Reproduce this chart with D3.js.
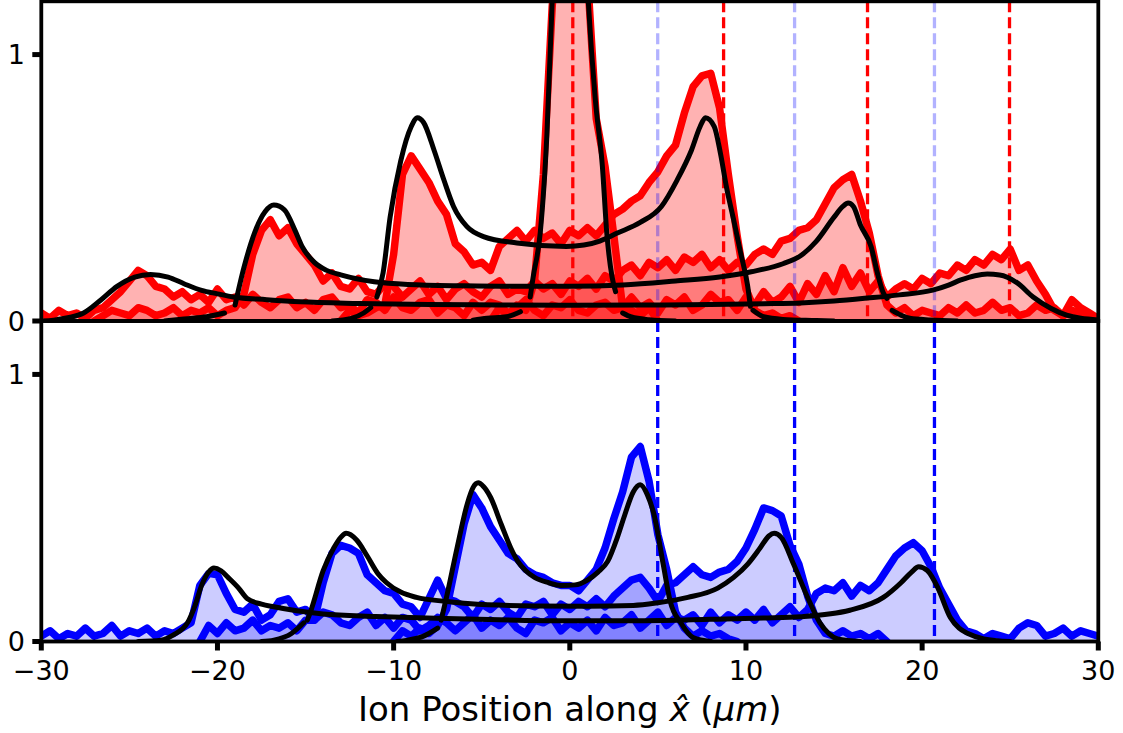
<!DOCTYPE html>
<html>
<head>
<meta charset="utf-8">
<script src="https://cdn.jsdelivr.net/npm/d3@7"></script>
<style>
  body { margin: 0; background: #fff; }
  svg { display: block; font-family: "DejaVu Sans", sans-serif; }
</style>
</head>
<body>
<script>
// measured profiles, sampled every 0.5 um from their start position
const STEP = 0.5;

// top panel (red) - one trace per ion pair
const redOuterStart = -30;
const redOuter = [
  0.03,0.01,0.04,0.02,0.03,0.01,0.04,0.05,0.08,0.11,
  0.15,0.19,0.17,0.13,0.12,0.09,0.11,0.08,0.10,0.07,
  0.12,0.08,0.09,0.06,0.10,0.07,0.05,0.08,0.09,0.05,
  0.07,0.04,0.08,0.09,0.05,0.06,0.03,0.08,0.07,0.04,
  0.09,0.05,0.04,0.07,0.08,0.03,0.06,0.05,0.02,0.07,
  0.04,0.07,0.06,0.03,0.05,0.08,0.04,0.02,0.06,0.05,
  0.08,0.04,0.03,0.06,0.07,0.04,0.05,0.09,0.05,0.07,
  0.03,0.08,0.06,0.09,0.04,0.06,0.10,0.07,0.08,0.04,
  0.09,0.06,0.11,0.07,0.09,0.13,0.07,0.14,0.10,0.17,
  0.11,0.20,0.13,0.18,0.11,0.15,0.09,0.12,0.14,0.12,
  0.16,0.14,0.18,0.17,0.21,0.19,0.23,0.21,0.25,0.23,
  0.27,0.19,0.21,0.15,0.10,0.04,0.02,0.08,0.05,0.03,
  0.01
];
const redThirdStart = -27;
const redThird = [
  0.00,0.02,0.04,0.03,0.02,0.05,0.04,0.02,0.03,0.05,
  0.02,0.04,0.03,0.05,0.02,0.04,0.05,0.10,0.25,0.34,
  0.38,0.32,0.35,0.29,0.25,0.21,0.15,0.18,0.13,0.12,
  0.16,0.11,0.10,0.14,0.13,0.09,0.12,0.15,0.10,0.13,
  0.08,0.12,0.14,0.11,0.09,0.13,0.15,0.10,0.12,0.11,
  0.15,0.12,0.14,0.10,0.15,0.13,0.16,0.12,0.17,0.15,
  0.19,0.21,0.17,0.22,0.20,0.23,0.19,0.24,0.22,0.25,
  0.20,0.23,0.19,0.22,0.21,0.25,0.27,0.25,0.30,0.31,
  0.34,0.35,0.38,0.44,0.50,0.53,0.55,0.45,0.33,0.17,
  0.06,0.03,0.05,0.02,0.04,0.03,0.02,0.05,0.03,0.06,
  0.03,0.04,0.07,0.04,0.05,0.02,0.03,0.06,0.04,0.05,
  0.02,0.04,0.03,0.02,0.00
];
const redSecondStart = -13;
const redSecond = [
  0.00,0.04,0.02,0.03,0.05,0.06,0.25,0.55,0.62,0.57,
  0.52,0.45,0.40,0.29,0.26,0.21,0.22,0.19,0.28,0.31,
  0.34,0.30,0.34,0.31,0.33,0.29,0.34,0.32,0.35,0.32,
  0.36,0.40,0.42,0.45,0.47,0.52,0.56,0.62,0.66,0.78,
  0.88,0.92,0.93,0.80,0.55,0.32,0.12,0.04,0.02,0.03,
  0.01,0.02,0.00
];
const redCentreStart = -4.5;
const redCentre = [
  0.00,0.05,0.02,0.06,0.04,0.15,0.55,1.18,1.60,1.80,
  1.70,1.30,0.76,0.58,0.32,0.05,0.04,0.02,0.05,0.00
];

// bottom panel (blue)
const blueOuterStart = -30;
const blueOuter = [
  0.02,0.04,0.01,0.03,0.02,0.05,0.02,0.03,0.06,0.02,
  0.04,0.03,0.05,0.02,0.04,0.03,0.05,0.07,0.21,0.255,
  0.25,0.18,0.12,0.11,0.14,0.08,0.10,0.15,0.16,0.11,
  0.12,0.08,0.11,0.10,0.07,0.06,0.09,0.11,0.06,0.09,
  0.05,0.09,0.08,0.04,0.06,0.09,0.07,0.04,0.07,0.10,
  0.05,0.08,0.06,0.09,0.05,0.03,0.08,0.07,0.09,0.04,
  0.07,0.05,0.08,0.04,0.09,0.06,0.07,0.10,0.05,0.08,
  0.11,0.06,0.09,0.08,0.10,0.06,0.11,0.07,0.10,0.08,
  0.11,0.08,0.12,0.07,0.10,0.13,0.09,0.12,0.18,0.20,
  0.19,0.22,0.17,0.21,0.19,0.22,0.27,0.32,0.35,0.37,
  0.34,0.28,0.20,0.14,0.08,0.04,0.03,0.01,0.03,0.02,
  0.01,0.05,0.07,0.06,0.02,0.03,0.05,0.02,0.04,0.03,
  0.02
];
const blueSecondStart = -21;
const blueSecond = [
  0.00,0.06,0.03,0.07,0.04,0.05,0.08,0.04,0.06,0.05,
  0.07,0.04,0.08,0.08,0.22,0.33,0.36,0.35,0.33,0.25,
  0.22,0.19,0.18,0.14,0.13,0.09,0.16,0.23,0.16,0.15,
  0.13,0.09,0.14,0.12,0.15,0.11,0.09,0.14,0.13,0.15,
  0.10,0.14,0.12,0.15,0.13,0.16,0.13,0.17,0.20,0.23,
  0.24,0.20,0.15,0.21,0.22,0.25,0.28,0.25,0.24,0.26,
  0.27,0.30,0.35,0.42,0.50,0.49,0.47,0.36,0.29,0.17,
  0.08,0.03,0.02,0.04,0.02,0.03,0.01,0.03,0.00
];
const blueInnerStart = -10;
const blueInner = [
  0.00,0.04,0.02,0.05,0.03,0.06,0.12,0.28,0.44,0.55,
  0.50,0.43,0.38,0.33,0.31,0.27,0.25,0.24,0.22,0.21,
  0.21,0.19,0.23,0.27,0.35,0.46,0.56,0.69,0.73,0.60,
  0.40,0.27,0.11,0.05,0.02,0.04,0.02,0.03,0.01,0.00
];

// model curves, read as [x, y] points; separate pieces where the curve breaks
const fitTop = [
  // outer pair
  [[-30,0],[-29.3,0.003],[-28.5,0.012],[-27.6,0.03],[-26.6,0.08],[-25.7,0.13],[-24.7,0.165],
   [-23.8,0.175],[-22.8,0.165],[-21.9,0.14],[-20.9,0.115],[-20,0.102],[-19.1,0.09],[-17.2,0.08],
   [-15.3,0.072],[-12,0.066],[-8,0.062],[-4,0.06],[0,0.059],[4,0.06],[8,0.062],[11,0.065],
   [13.1,0.068],[15,0.075],[16.9,0.086],[18.7,0.098],[20.6,0.116],[21.5,0.135],[22.2,0.154],
   [23,0.17],[23.7,0.176],[24.4,0.173],[25.4,0.143],[26.3,0.09],[27.3,0.048],[28.2,0.022],
   [29,0.01],[30,0.004]],
  // third pair
  [[-23,0],[-21.9,0.008],[-20.6,0.016],[-19.6,0.03]],
  [[-19.0,0.06],[-18.5,0.2],[-17.9,0.33],[-17.3,0.41],[-16.8,0.435],[-16.2,0.417],[-15.6,0.34],
   [-15.2,0.28],[-14.5,0.22],[-13.8,0.19],[-13,0.173],[-11.1,0.147],[-9.2,0.137],[-6,0.132],
   [-3,0.13],[0,0.13],[3,0.135],[6,0.15],[8.5,0.165],[10.3,0.185],[12.1,0.215],[13.1,0.245],
   [14.0,0.3],[15.0,0.39],[15.5,0.43],[15.8,0.443],[16.1,0.43],[16.5,0.36],[17.1,0.28],
   [17.5,0.17],[17.8,0.105],[18.0,0.085]],
  [[18.3,0.04],[18.8,0.022],[19.3,0.01],[20.5,0.004],[22,0]],
  // second pair
  [[-13.5,0],[-12.4,0.01],[-11.7,0.03],[-11.3,0.05]],
  [[-10.95,0.09],[-10.6,0.18],[-10.2,0.39],[-9.6,0.6],[-9.0,0.73],[-8.65,0.763],[-8.3,0.745],
   [-7.7,0.64],[-7.15,0.53],[-6.6,0.43],[-5.85,0.355],[-4.9,0.317],[-3.0,0.293],[-0.2,0.28],
   [0.8,0.285],[1.7,0.3],[2.7,0.33],[4.0,0.37],[5.2,0.43],[6.1,0.53],[6.9,0.64],[7.4,0.73],
   [7.7,0.763],[8.2,0.73],[8.55,0.63],[8.9,0.5],[9.3,0.38],[9.7,0.255],[10.1,0.13],[10.25,0.055]],
  [[10.4,0.04],[11.0,0.016],[12.1,0.006],[14,0.002],[15,0]],
  // centre ion
  [[-5.5,0.003],[-4.7,0.01],[-3.6,0.016],[-2.8,0.035]],
  [[-2.25,0.09],[-2.08,0.165],[-1.68,0.33],[-1.3,0.7],[-1.0,1.2],[-0.6,1.75],[-0.2,2.0],
   [0.1,2.05],[0.4,1.95],[0.75,1.6],[1.05,1.2],[1.45,0.83],[1.85,0.58],[2.1,0.33],[2.4,0.165],
   [2.6,0.11]],
  [[3.0,0.03],[3.5,0.015],[4.5,0.005],[6,0]]
];
const fitBottom = [
  [[-24.5,0],[-23.2,0.005],[-22.5,0.025],[-21.7,0.07],[-21.3,0.13],[-20.9,0.21],[-20.5,0.26],
   [-20.2,0.275],[-19.8,0.265],[-19.4,0.24],[-18.8,0.2],[-18.3,0.16],[-17.5,0.14],[-16.8,0.13],
   [-15.5,0.115],[-14,0.103],[-11,0.094],[-7,0.086],[-3,0.08],[0,0.078],[4,0.078],[8,0.083],
   [11,0.088],[13.1,0.093],[15.9,0.117],[17.8,0.165],[18.8,0.22],[19.4,0.26],[19.8,0.28],
   [20.3,0.265],[20.9,0.2],[21.6,0.09],[22.1,0.05],[22.6,0.03],[23.5,0.01],[25,0]],
  [[-17.5,0],[-16.8,0.005],[-15.8,0.03],[-15.1,0.07]],
  [[-14.9,0.08],[-14.7,0.115],[-14.0,0.265],[-13.4,0.35],[-13.0,0.39],[-12.7,0.405],[-12.1,0.38],
   [-11.5,0.32],[-10.9,0.255],[-10.4,0.22],[-9.6,0.185],[-8.7,0.165],[-7,0.15],[-5.8,0.142],
   [-2,0.133],[1,0.132],[3.6,0.135],[5.0,0.145],[6.7,0.165],[8.4,0.2],[9.3,0.24],[10.1,0.29],
   [10.8,0.35],[11.3,0.395],[11.6,0.405],[12.0,0.39],[12.7,0.29],[13.5,0.165],[14.2,0.07],
   [14.7,0.03],[15.2,0.01],[16.5,0]],
  [[-9.8,0],[-9.2,0.005],[-8.3,0.02],[-7.5,0.05]],
  [[-7.3,0.08],[-7.0,0.165],[-6.4,0.35],[-5.8,0.52],[-5.5,0.575],[-5.2,0.594],[-4.9,0.58],
   [-4.5,0.54],[-3.9,0.44],[-3.35,0.35],[-2.95,0.3],[-2.5,0.265],[-2.0,0.24],[-1.2,0.22],
   [-0.5,0.21],[0.3,0.212],[1.0,0.23],[1.6,0.26],[2.15,0.3],[2.7,0.39],[3.1,0.47],[3.6,0.56],
   [4.0,0.587],[4.4,0.55],[4.8,0.47],[5.3,0.29],[5.7,0.15],[6.3,0.07],[7.0,0.015],[8,0]]
];

// vertical markers
const redMarks = [0.17, 8.73, 16.9, 24.96];
const blueMarks = [4.99, 12.76, 20.7];

const xTicks = [-30, -20, -10, 0, 10, 20, 30];
const yTicks = [0, 1];

// ---- layout
const width = 1123, height = 733;
const left = 41.3, right = 1098.3;
const panels = [
  { top: 1.3, bottom: 321 },
  { top: 321, bottom: 641.5 }
];

const svg = d3.select("body").append("svg")
  .attr("width", width)
  .attr("height", height);

const x = d3.scaleLinear().domain([-30, 30]).range([left, right]);
const yTop = d3.scaleLinear().domain([0, 1.2]).range([panels[0].bottom, panels[0].top]);
const yBot = d3.scaleLinear().domain([0, 1.2]).range([panels[1].bottom, panels[1].top]);

const toPoints = (start, vals) => vals.map((v, i) => [start + i * STEP, v]);

const redSeries = [
  toPoints(redOuterStart, redOuter),
  toPoints(redThirdStart, redThird),
  toPoints(redSecondStart, redSecond),
  toPoints(redCentreStart, redCentre)
];
const blueSeries = [
  toPoints(blueOuterStart, blueOuter),
  toPoints(blueSecondStart, blueSecond),
  toPoints(blueInnerStart, blueInner)
];

const defs = svg.append("defs");
panels.forEach((p, i) => {
  defs.append("clipPath").attr("id", "clip" + i)
    .append("rect")
    .attr("x", left).attr("y", p.top)
    .attr("width", right - left).attr("height", p.bottom - p.top);
});

function drawPanel(idx, y, series, color, fillOpacity, fits, marks, markColor, markOpacity, extraMarks) {
  const g = svg.append("g").attr("clip-path", `url(#clip${idx})`);

  const area = d3.area()
    .x(d => x(d[0])).y0(y(0)).y1(d => y(d[1]))
    .curve(d3.curveLinear);
  const line = d3.line()
    .x(d => x(d[0])).y(d => y(d[1]))
    .curve(d3.curveLinear);

  series.forEach(s => {
    g.append("path").attr("d", area(s))
      .attr("fill", color).attr("fill-opacity", fillOpacity);
  });
  series.forEach(s => {
    g.append("path").attr("d", line(s))
      .attr("fill", "none").attr("stroke", color)
      .attr("stroke-width", 7.5).attr("stroke-linejoin", "round")
      .attr("stroke-linecap", "round");
  });

  const p = panels[idx];
  const drawMarks = (list, c, op) => {
    g.selectAll(null).data(list).join("line")
      .attr("x1", d => x(d)).attr("x2", d => x(d))
      .attr("y1", p.top).attr("y2", p.bottom)
      .attr("stroke", c).attr("stroke-opacity", op)
      .attr("stroke-width", 3.3)
      .attr("stroke-dasharray", "11,5");
  };
  if (extraMarks) drawMarks(extraMarks.list, extraMarks.color, extraMarks.opacity);
  drawMarks(marks, markColor, markOpacity);

  const fitLine = d3.line()
    .x(d => x(d[0])).y(d => y(d[1]))
    .curve(d3.curveMonotoneX);
  fits.forEach(f => {
    g.append("path").attr("d", fitLine(f))
      .attr("fill", "none").attr("stroke", "#000")
      .attr("stroke-width", 5).attr("stroke-linejoin", "round")
      .attr("stroke-linecap", "round");
  });
}

drawPanel(0, yTop, redSeries, "#ff0000", 0.3, fitTop, redMarks, "#ff0000", 1,
  { list: blueMarks, color: "#0000ff", opacity: 0.3 });
drawPanel(1, yBot, blueSeries, "#0000ff", 0.2, fitBottom, blueMarks, "#0000ff", 1, null);

// ---- axes frames
const frame = svg.append("g").attr("fill", "none").attr("stroke", "#000").attr("stroke-width", 3.8);
panels.forEach(p => {
  frame.append("rect")
    .attr("x", left).attr("y", p.top)
    .attr("width", right - left).attr("height", p.bottom - p.top);
});

// y ticks
[yTop, yBot].forEach(y => {
  const t = svg.append("g");
  yTicks.forEach(v => {
    t.append("line")
      .attr("x1", left - 9).attr("x2", left)
      .attr("y1", y(v)).attr("y2", y(v))
      .attr("stroke", "#000").attr("stroke-width", 5);
    t.append("text")
      .attr("x", 25).attr("y", y(v)).attr("dy", "0.36em")
      .attr("text-anchor", "end")
      .attr("font-size", 27)
      .text(v);
  });
});

// x ticks on the lower panel
const xt = svg.append("g");
xTicks.forEach(v => {
  xt.append("line")
    .attr("x1", x(v)).attr("x2", x(v))
    .attr("y1", panels[1].bottom).attr("y2", panels[1].bottom + 9)
    .attr("stroke", "#000").attr("stroke-width", 5);
  xt.append("text")
    .attr("x", x(v)).attr("y", 680)
    .attr("text-anchor", "middle")
    .attr("font-size", 27)
    .text(v < 0 ? "\u2212" + Math.abs(v) : v);
});

// axis label
const lab = svg.append("text")
  .attr("x", (left + right) / 2).attr("y", 721)
  .attr("text-anchor", "middle")
  .attr("font-size", 34);
lab.append("tspan").text("Ion Position along ");
lab.append("tspan").attr("font-style", "italic").text("x\u0302");
lab.append("tspan").text(" (");
lab.append("tspan").attr("font-style", "italic").text("\u03bcm");
lab.append("tspan").text(")");
</script>
</body>
</html>
